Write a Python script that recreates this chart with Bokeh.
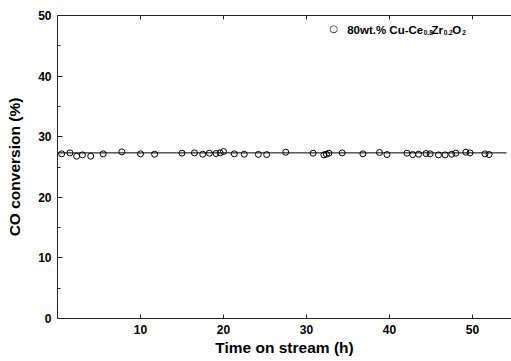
from bokeh.plotting import figure
from bokeh.models import (Range1d, LinearAxis, FixedTicker, Label, ColumnDataSource)
from bokeh.embed import file_html
from bokeh.resources import INLINE

# ---- data ----
time_h = [0.5, 1.5, 2.3, 3.0, 4.0, 5.5, 7.75, 10.0, 11.7, 15.0, 16.5, 17.5, 18.3, 19.1,
          19.6, 20.0, 21.3, 22.5, 24.2, 25.2, 27.5, 30.8, 32.1, 32.4, 32.7, 34.3, 36.8,
          38.8, 39.7, 42.1, 42.8, 43.5, 44.4, 44.9, 45.9, 46.7, 47.5, 48.0, 49.2, 49.7,
          51.5, 52.0]
conversion = [27.17, 27.33, 26.78, 27.0, 26.78, 27.17, 27.5, 27.17, 27.11, 27.28, 27.33,
              27.11, 27.28, 27.22, 27.33, 27.55, 27.17, 27.11, 27.08, 27.05, 27.44, 27.28,
              27.0, 27.11, 27.28, 27.33, 27.17, 27.39, 27.05, 27.28, 27.05, 27.11, 27.22,
              27.17, 27.0, 27.0, 27.11, 27.28, 27.44, 27.33, 27.17, 27.05]
fit_x = [0.0, 54.1]
fit_y = [27.33, 27.33]
x_ticks = [10, 20, 30, 40, 50]
y_ticks = [0, 10, 20, 30, 40, 50]
y_minor = [5, 15, 25, 35, 45]

FONT = "Liberation Sans"

p = figure(width=511, height=361, output_backend="svg", toolbar_location=None,
           x_range=Range1d(0, 54.7), y_range=Range1d(0, 50),
           min_border_left=57, min_border_right=0, min_border_top=15, min_border_bottom=43,
           background_fill_color="white", border_fill_color="white")
p.outline_line_color = None
p.xgrid.visible = False
p.ygrid.visible = False

# x axis (bottom)
xa = p.xaxis[0]
xa.ticker = FixedTicker(ticks=x_ticks, minor_ticks=[])
xa.major_tick_in = 4
xa.major_tick_out = 0
xa.minor_tick_in = 0
xa.minor_tick_out = 0
xa.major_label_standoff = 6
xa.major_label_text_font = FONT
xa.major_label_text_font_style = "bold"
xa.major_label_text_font_size = "12px"
xa.major_label_text_color = "black"
xa.axis_line_color = "#222222"
xa.major_tick_line_color = "#222222"
xa.axis_label = "Time on stream (h)"
xa.axis_label_text_font = FONT
xa.axis_label_text_font_style = "bold"
xa.axis_label_text_font_size = "15.5px"
xa.axis_label_text_color = "black"
xa.axis_label_standoff = 2

# y axis (left)
ya = p.yaxis[0]
ya.ticker = FixedTicker(ticks=y_ticks, minor_ticks=y_minor)
ya.major_tick_in = 5
ya.major_tick_out = 0
ya.minor_tick_in = 3
ya.minor_tick_out = 0
ya.major_label_standoff = 6
ya.major_label_text_font = FONT
ya.major_label_text_font_style = "bold"
ya.major_label_text_font_size = "12px"
ya.major_label_text_color = "black"
ya.axis_line_color = "#222222"
ya.major_tick_line_color = "#222222"
ya.minor_tick_line_color = "#222222"
ya.axis_label = "CO conversion (%)"
ya.axis_label_text_font = FONT
ya.axis_label_text_font_style = "bold"
ya.axis_label_text_font_size = "15.5px"
ya.axis_label_text_color = "black"
ya.axis_label_standoff = 12

# top frame line with inward ticks (no labels)
top = LinearAxis(ticker=FixedTicker(ticks=x_ticks, minor_ticks=[]),
                 major_tick_in=4, major_tick_out=0, minor_tick_in=0, minor_tick_out=0,
                 major_label_overrides={t: "" for t in x_ticks}, major_label_standoff=0,
                 axis_line_color="#222222", major_tick_line_color="#222222")
p.add_layout(top, "above")

# fit line and data
p.line(fit_x, fit_y, line_color="black", line_width=1)
src = ColumnDataSource(dict(x=time_h, y=conversion))
p.scatter("x", "y", source=src, marker="circle", size=6, fill_color=None,
          line_color="black", line_width=1)

# legend key and text with subscripts (annotation positions in data space)
p.add_layout(Label(x=33.3, y=47.82, text="\u25cb", text_font="DejaVu Sans",
                   text_font_size="10px", text_color="black",
                   text_align="center", text_baseline="middle"))

def lab(txt, x, y, size):
    p.add_layout(Label(x=x, y=y, text=txt,
                       text_font=FONT, text_font_style="bold", text_font_size=size,
                       text_color="black", text_baseline="alphabetic", text_align="left"))

lab("80wt.% Cu-Ce", 34.9, 47.58, "11.5px")
lab("0.8", 44.14, 47.12, "6.5px")
lab("Zr", 45.05, 47.58, "11.5px")
lab("0.2", 46.53, 47.12, "6.5px")
lab("O", 47.55, 47.58, "11.5px")
lab("2", 48.76, 47.12, "6.5px")

open("out.html", "w").write(file_html(p, INLINE))
